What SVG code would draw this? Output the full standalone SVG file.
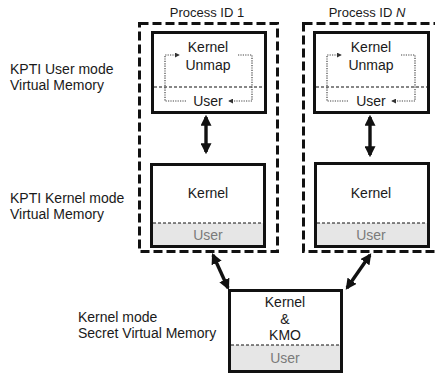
<svg xmlns="http://www.w3.org/2000/svg" width="435" height="375" viewBox="0 0 435 375">
  <style>
    text { font-family: "Liberation Sans", Arial, sans-serif; fill: #1a1a1a; }
    .lbl { font-size: 14px; }
    .title { font-size: 13px; text-anchor: middle; }
    .in { font-size: 14px; text-anchor: middle; }
    .gray { fill: #7a7a7a; }
    .proc { fill: none; stroke: #111; stroke-width: 3; stroke-dasharray: 9 4; }
    .box { fill: #fff; stroke: #111; stroke-width: 3; }
    .sep { stroke: #111; stroke-width: 1.2; stroke-dasharray: 3 2; fill: none; }
    .shade { fill: #e6e6e6; }
    .loop { fill: none; stroke: #444; stroke-width: 1.2; stroke-dasharray: 1.2 1.2; }
    .link { fill: none; stroke: #111; stroke-width: 3.4; marker-start: url(#head); marker-end: url(#head); }
  </style>
  <defs>
    <marker id="head" viewBox="0 0 10 10" refX="8" refY="5" markerWidth="11" markerHeight="11" markerUnits="userSpaceOnUse" orient="auto-start-reverse">
      <path d="M0,0 L10,5 L0,10 Z" fill="#111"/>
    </marker>
    <marker id="tip" viewBox="0 0 6 6" refX="5" refY="3" markerWidth="5" markerHeight="5" markerUnits="userSpaceOnUse" orient="auto">
      <path d="M0,0 L6,3 L0,6 Z" fill="#333"/>
    </marker>
  </defs>

  <!-- row labels -->
  <g id="labels">
    <text class="lbl" x="10" y="74">KPTI User mode</text>
    <text class="lbl" x="10" y="90">Virtual Memory</text>
    <text class="lbl" x="10" y="203">KPTI Kernel mode</text>
    <text class="lbl" x="10" y="219">Virtual Memory</text>
    <text class="lbl" x="78" y="322">Kernel mode</text>
    <text class="lbl" x="78" y="338">Secret Virtual Memory</text>
  </g>

  <!-- process 1 -->
  <g id="process-1">
    <text class="title" x="207" y="17">Process ID 1</text>
    <rect class="proc" x="139.5" y="23.5" width="138" height="228"/>
  </g>
  <g id="user-vm-1">
    <rect class="box" x="152.5" y="32.5" width="113" height="80"/>
    <line class="sep" x1="154" y1="87" x2="264" y2="87"/>
    <text class="in" x="208" y="52">Kernel</text>
    <text class="in" x="208" y="70">Unmap</text>
    <text class="in" x="208" y="106">User</text>
    <path class="loop" d="M186,101 H165 V55 H179" marker-end="url(#tip)"/>
    <path class="loop" d="M238,55 H252 V101 H229" marker-end="url(#tip)"/>
  </g>
  <g id="kernel-vm-1">
    <rect class="box" x="151.5" y="164.5" width="113" height="82"/>
    <rect class="shade" x="153" y="223" width="110" height="22"/>
    <line class="sep" x1="153" y1="223" x2="263" y2="223"/>
    <text class="in" x="208" y="198">Kernel</text>
    <text class="in gray" x="208" y="240">User</text>
  </g>

  <!-- process N -->
  <g id="process-n">
    <text class="title" x="367" y="17">Process ID <tspan font-style="italic">N</tspan></text>
    <rect class="proc" x="303.5" y="23.5" width="140" height="228"/>
  </g>
  <g id="user-vm-n">
    <rect class="box" x="314.5" y="32.5" width="114" height="80"/>
    <line class="sep" x1="316" y1="87" x2="427" y2="87"/>
    <text class="in" x="371" y="52">Kernel</text>
    <text class="in" x="371" y="70">Unmap</text>
    <text class="in" x="371" y="106">User</text>
    <path class="loop" d="M348,101 H327 V55 H341" marker-end="url(#tip)"/>
    <path class="loop" d="M401,55 H415 V101 H392" marker-end="url(#tip)"/>
  </g>
  <g id="kernel-vm-n">
    <rect class="box" x="315.5" y="163.5" width="113" height="83"/>
    <rect class="shade" x="317" y="223" width="110" height="22"/>
    <line class="sep" x1="317" y1="223" x2="427" y2="223"/>
    <text class="in" x="371" y="198">Kernel</text>
    <text class="in gray" x="371" y="240">User</text>
  </g>

  <!-- shared secret kernel memory -->
  <g id="secret-vm">
    <rect class="box" x="229.5" y="290.5" width="112" height="81"/>
    <rect class="shade" x="231" y="345" width="109" height="25"/>
    <line class="sep" x1="231" y1="345" x2="340" y2="345"/>
    <text class="in" x="285" y="307">Kernel</text>
    <text class="in" x="285" y="324">&amp;</text>
    <text class="in" x="285" y="340">KMO</text>
    <text class="in gray" x="285" y="363">User</text>
  </g>

  <!-- connectors -->
  <g id="connectors">
    <path class="link" d="M206,117 V152"/>
    <path class="link" d="M370,117 V155"/>
    <path class="link" d="M213,255 L228,288"/>
    <path class="link" d="M370,255 L347,288"/>
  </g>
</svg>
